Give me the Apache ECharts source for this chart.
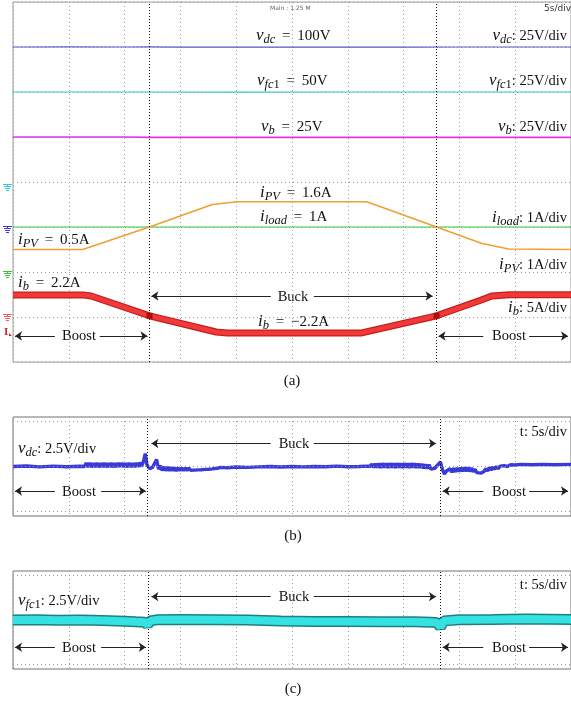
<!DOCTYPE html>
<html><head><meta charset="utf-8">
<script src="https://cdn.jsdelivr.net/npm/echarts@6/dist/echarts.min.js"></script>
<style>html,body{margin:0;padding:0;background:#fff;}#c{width:571px;height:701px;}</style>
</head><body><div id="c"></div>
<script>
// ---------- DATA (time in s, 5 s/div; values in physical units) ----------
const vdcA  = [[0,100],[5,100.1],[10,100],[12.2,100.1],[15,99.9],[20,99.9],[25,100],[30,99.9],[35,99.9],[40,100],[45,100],[50,100]];
const vfc1A = [[0,50],[10,50],[20,49.9],[30,50],[40,50],[50,50]];
const vbA   = [[0,25],[10,25],[12.3,24.8],[20,24.8],[30,24.8],[40,24.8],[50,24.8]];
const iloadA= [[0,1],[10,1],[20,1],[30,1],[40,1],[50,1]];
const ipvA  = [[0,0.5],[6.25,0.5],[12.23,1.0],[17.86,1.5],[20.1,1.56],[31.7,1.56],[37.95,1.0],[41.96,0.64],[44.4,0.51],[50,0.5]];
const ibA   = [[0,2.1],[6.4,2.1],[7.0,2.0],[12.23,-0.2],[18.2,-2.0],[19.2,-2.1],[31.25,-2.1],[37.95,-0.2],[41.96,1.55],[42.9,2.0],[44.5,2.15],[50,2.15]];
const ibCursorMarks = [[12.23,-0.2],[37.95,-0.2]];
const cursorsA = [12.23, 37.95];
const cursorsB = [12.05, 38.3];
const cursorsC = [12.14, 38.3];

const vdcB = [[0,100.0],[1.2,100.03],[2.4,99.98],[3.6,100.02],[4.8,99.99],[6.0,100.01],
 [6.4,100.0],[6.56,100.2],[6.72,99.97],[6.88,100.2],[7.04,99.96],[7.2,100.18],[7.36,99.97],[7.52,100.2],[7.68,99.96],[7.84,100.19],[8.0,99.97],[8.16,100.2],[8.32,99.96],[8.48,100.18],[8.64,99.97],[8.8,100.2],[8.96,99.96],[9.12,100.19],[9.28,99.97],[9.44,100.2],[9.6,99.98],[9.76,100.2],[9.92,99.97],[10.08,100.19],[10.24,99.96],[10.4,100.2],[10.56,99.97],[10.72,100.18],[10.88,99.97],[11.04,100.2],[11.2,99.98],[11.36,100.22],[11.52,100.0],
 [11.7,100.3],[11.85,100.72],[12.0,100.1],[12.23,99.88],[12.5,99.95],[12.86,100.39],[13.05,99.85],[13.2,100.05],[13.36,99.78],[13.52,99.98],[13.68,99.77],[13.84,99.97],[14.0,99.76],[14.16,99.95],[14.32,99.77],[14.48,99.94],[14.64,99.76],[14.8,99.93],[14.96,99.77],[15.12,99.92],[15.28,99.78],[15.44,99.92],[15.6,99.78],[15.76,99.91],[15.92,99.79],[16.08,99.9],[16.24,99.8],[16.4,99.9],[16.56,99.81],[16.72,99.9],[16.88,99.82],[17.04,99.9],[17.2,99.84],[17.36,99.92],[17.52,99.85],[17.68,99.92],[17.84,99.87],[18.0,99.93],[18.3,99.9],[18.6,99.95],[19.2,99.93],[20,99.97],[21,99.95],[22,99.98],[23,100.0],[24,99.97],[25,100.0],[26,99.98],[27,100.0],[28,99.99],[29,100.02],[30,99.99],[31,100.0],[31.8,100.02],
 [32.0,100.0],[32.16,100.14],[32.32,99.95],[32.48,100.16],[32.64,99.94],[32.8,100.17],[32.96,99.93],[33.12,100.18],[33.28,99.94],[33.44,100.17],[33.6,99.93],[33.76,100.18],[33.92,99.94],[34.08,100.17],[34.24,99.93],[34.4,100.18],[34.56,99.94],[34.72,100.17],[34.88,99.93],[35.04,100.18],[35.2,99.94],[35.36,100.17],[35.52,99.93],[35.68,100.18],[35.84,99.94],[36.0,100.17],[36.16,99.92],[36.32,100.16],[36.48,99.92],[36.64,100.15],[36.8,99.9],[36.96,100.12],[37.12,99.88],[37.28,100.1],[37.44,99.85],[37.6,99.95],[37.8,99.9],
 [38.0,100.05],[38.3,100.25],[38.5,99.8],[38.66,99.58],[38.85,99.75],[39.0,99.65],[39.16,99.88],[39.32,99.68],[39.48,99.9],[39.64,99.7],[39.8,99.92],[39.96,99.72],[40.12,99.93],[40.28,99.73],[40.44,99.94],[40.6,99.74],[40.76,99.94],[40.92,99.73],[41.08,99.92],[41.24,99.7],[41.4,99.85],[41.56,99.66],[41.72,99.7],[41.96,99.64],[42.2,99.72],[42.36,99.88],[42.52,99.75],[42.68,99.95],[42.84,99.8],[43.0,99.98],[43.16,99.84],[43.32,100.0],[43.48,99.88],[43.64,100.02],[43.8,99.92],[44.0,100.05],[44.3,100.0],[44.6,100.1],[45.0,100.08],[45.5,100.12],[46.5,100.1],[47.5,100.12],[48.5,100.1],[50,100.12]];

const vfc1C = [[0,50.0],[2,50.02],[4,49.98],[6,50.0],[8,49.97],[10,49.93],[11,49.9],[11.8,49.88],[12.05,49.72],[12.3,49.95],[13,50.02],[15,50.03],[18,50.02],[21,50.0],[24,49.95],[27,49.92],[30,49.92],[33,49.9],[36,49.9],[37.5,49.88],[38.0,49.85],[38.3,49.6],[38.6,49.95],[40,50.02],[43,50.03],[46,50.05],[50,50.03]];
const gridLinesB = [97.5, 100, 102.5];
const gridLinesC = [47.5, 50, 52.5];

// ---------- LAYOUT / STYLE ----------
const SERIF = "'Liberation Serif','DejaVu Serif',serif";
const dot = {color:'#9c9c9c', type:[1,3], width:1};
const chart = echarts.init(document.getElementById('c'), null, {renderer:'canvas'});

function xAx(g){return {type:'value',gridIndex:g,min:0,max:50,interval:5,axisLine:{show:false},axisTick:{show:false},axisLabel:{show:false},splitLine:{show:true,lineStyle:dot}};}
function yHidden(g,min,max){return {type:'value',gridIndex:g,min:min,max:max,show:false};}
function line(name,xi,yi,data,color,width,z){return {name,type:'line',xAxisIndex:xi,yAxisIndex:yi,data,symbol:'none',showSymbol:false,lineStyle:{color,width},itemStyle:{color},z:z||3,silent:true,animation:false};}
function dummy(xi,yi,mlData,ls,sym,z){return {type:'line',xAxisIndex:xi,yAxisIndex:yi,data:[],symbol:'none',silent:true,animation:false,z:z||2,
  markLine:{silent:true,animation:false,symbol:sym,symbolSize:7,label:{show:false},lineStyle:ls,data:mlData}};}
function arrow(t1,t2,y){return [{coord:[t1,y]},{coord:[t2,y]}];}

const arrowLS = {color:'#222',width:1,type:'solid'};
const cursorLS = {color:'#111',width:1,type:[1,2]};

const rich = {
  m:{fontFamily:SERIF,fontStyle:'italic',fontSize:17,lineHeight:20,verticalAlign:'middle',fill:'#111'},
  s:{fontFamily:SERIF,fontStyle:'italic',fontSize:12.5,lineHeight:12,verticalAlign:'bottom',fill:'#111'},
  s1:{fontFamily:SERIF,fontSize:12.5,lineHeight:12,verticalAlign:'bottom',fill:'#111'},
  e:{fontFamily:SERIF,fontSize:15,lineHeight:20,verticalAlign:'middle',fill:'#111'},
  n:{fontFamily:SERIF,fontSize:14.5,lineHeight:20,verticalAlign:'middle',fill:'#111'}
};
function txt(x,y,text,align){return {type:'text',x:x,y:y,silent:true,style:{text:text,rich:rich,align:align||'left',verticalAlign:'middle',fill:'#111',font:'14px '+SERIF}};}
const labels = [
  [256,36,'{m|v}{s|dc}{e| \u2009=\u2009 100V}','left'],
  [257,81,'{m|v}{s|fc}{s1|1}{e| \u2009=\u2009 50V}','left'],
  [261,127,'{m|v}{s|b}{e| \u2009=\u2009 25V}','left'],
  [567,36,'{m|v}{s|dc}{n|: 25V/div}','right'],
  [567,81,'{m|v}{s|fc}{s1|1}{n|: 25V/div}','right'],
  [567,127,'{m|v}{s|b}{n|: 25V/div}','right'],
  [260,193,'{m|i}{s|PV}{e| \u2009=\u2009 1.6A}','left'],
  [260,217,'{m|i}{s|load}{e| \u2009=\u2009 1A}','left'],
  [567,218,'{m|i}{s|load}{n|: 1A/div}','right'],
  [18,240,'{m|i}{s|PV}{e| \u2009=\u2009 0.5A}','left'],
  [567,265,'{m|i}{s|PV}{n|: 1A/div}','right'],
  [18,283,'{m|i}{s|b}{e| \u2009=\u2009 2.2A}','left'],
  [258,322,'{m|i}{s|b}{e| \u2009=\u2009 \u22122.2A}','left'],
  [567,308,'{m|i}{s|b}{n|: 5A/div}','right'],
  [293,297,'{n|Buck}','center'],
  [79,336,'{n|Boost}','center'],
  [509,336,'{n|Boost}','center'],
  [292,381,'{e|(a)}','center'],
  [18,449,'{m|v}{s|dc}{n|: 2.5V/div}','left'],
  [294,444,'{n|Buck}','center'],
  [567,432,'{n|t: 5s/div}','right'],
  [79,492,'{n|Boost}','center'],
  [509,492,'{n|Boost}','center'],
  [293,536,'{e|(b)}','center'],
  [18,601,'{m|v}{s|fc}{s1|1}{n|: 2.5V/div}','left'],
  [294,597,'{n|Buck}','center'],
  [567,585,'{n|t: 5s/div}','right'],
  [79,648,'{n|Boost}','center'],
  [509,648,'{n|Boost}','center'],
  [293,689,'{e|(c)}','center']
];
function gnd(y,color){
  const ls={stroke:color,lineWidth:1};
  return {type:'group',silent:true,children:[
    {type:'line',shape:{x1:3,y1:y+0.5,x2:12,y2:y+0.5},style:ls},
    {type:'line',shape:{x1:7.5,y1:y,x2:7.5,y2:y+2},style:ls},
    {type:'line',shape:{x1:4,y1:y+2.5,x2:11,y2:y+2.5},style:ls},
    {type:'line',shape:{x1:5,y1:y+4.5,x2:10,y2:y+4.5},style:ls},
    {type:'line',shape:{x1:6,y1:y+6.5,x2:9,y2:y+6.5},style:ls}
  ]};
}
const graphics = labels.map(l=>txt(l[0],l[1],l[2],l[3]));
graphics.push({type:'text',x:270,y:8,silent:true,style:{text:'Main : 1.25 M',font:'6px "DejaVu Sans"',fill:'#666',verticalAlign:'middle'}});
graphics.push({type:'text',x:544,y:9,silent:true,style:{text:'5s/div',font:'9px "DejaVu Sans"',fill:'#333',verticalAlign:'middle'}});
graphics.push(gnd(184,'#33c8e0'), gnd(226,'#3a3ad8'), gnd(271,'#33c833'), gnd(314,'#ee5a5a'));
graphics.push({type:'text',x:4,y:332,silent:true,style:{text:'I',font:'bold 11px '+SERIF,fill:'#e02020',verticalAlign:'middle'}});
graphics.push({type:'polygon',silent:true,shape:{points:[[9,333],[12,336],[9,336]]},style:{fill:'#e02020'}});

const option = {
  backgroundColor:'#fff',
  animation:false,
  grid:[
    {left:13,top:2,width:560,height:360,show:true,borderColor:'#9a9a9a',borderWidth:1,backgroundColor:'transparent'},
    {left:13,top:417,width:560,height:99,show:true,borderColor:'#707070',borderWidth:1,backgroundColor:'transparent'},
    {left:13,top:571,width:560,height:98,show:true,borderColor:'#707070',borderWidth:1,backgroundColor:'transparent'}
  ],
  xAxis:[xAx(0),xAx(1),xAx(2)],
  yAxis:[
    {type:'value',gridIndex:0,min:0,max:8,interval:1,axisLine:{show:false},axisTick:{show:false},axisLabel:{show:false},splitLine:{show:true,lineStyle:dot}},
    yHidden(0,-75,125),
    yHidden(0,-100,100),
    yHidden(0,-100,100),
    yHidden(0,-2,6),
    yHidden(0,-5.333,34.667),
    yHidden(1,97.25,102.75),
    yHidden(2,47.25,52.75)
  ],
  series:[
    // panel (a)
    line('vdc',0,1,vdcA,'#5a5ad2',1.2),
    line('vfc1',0,2,vfc1A,'#3cc8c8',1.2),
    line('vb',0,3,vbA,'#e035e0',1.6),
    line('iload',0,4,iloadA,'#36c436',1),
    line('ipv',0,4,ipvA,'#f0a032',1.6,4),
    line('ibEdge',0,5,ibA,'#c81c1c',7,5),
    line('ib',0,5,ibA,'#f03a3a',4.5,6),
    {type:'scatter',xAxisIndex:0,yAxisIndex:5,data:ibCursorMarks,symbol:'rect',symbolSize:6,itemStyle:{color:'#a00000'},z:7,silent:true,animation:false},
    dummy(0,0,cursorsA.map(v=>({xAxis:v})),cursorLS,['none','none'],8),
    dummy(0,0,[arrow(23.1,12.4,1.467),arrow(26.96,37.6,1.467),arrow(3.75,0.18,0.578),arrow(7.77,12.05,0.578),arrow(42.14,38.13,0.578),arrow(46.25,49.73,0.578)],arrowLS,['none','arrow'],8),
    // panel (b)
    dummy(1,6,gridLinesB.map(v=>({yAxis:v})),dot,['none','none'],1),
    line('vdcB',1,6,vdcB,'#3a3ad8',3.4,4),
    dummy(1,6,cursorsB.map(v=>({xAxis:v})),cursorLS,['none','none'],8),
    dummy(1,6,[arrow(23.1,12.4,101.28),arrow(26.96,37.9,101.28),arrow(3.75,0.18,98.64),arrow(7.9,11.9,98.64),arrow(42.14,38.5,98.64),arrow(46.25,49.73,98.64)],arrowLS,['none','arrow'],8),
    // panel (c)
    dummy(2,7,gridLinesC.map(v=>({yAxis:v})),dot,['none','none'],1),
    line('vfc1Edge',2,7,vfc1C,'#1f7f80',11,4),
    line('vfc1C',2,7,vfc1C,'#34e2e2',8,5),
    dummy(2,7,cursorsC.map(v=>({xAxis:v})),cursorLS,['none','none'],8),
    dummy(2,7,[arrow(23.1,12.4,51.31),arrow(26.96,37.9,51.31),arrow(3.75,0.18,48.47),arrow(7.9,11.9,48.47),arrow(42.14,38.5,48.47),arrow(46.25,49.73,48.47)],arrowLS,['none','arrow'],8)
  ],
  graphic: graphics
};
chart.setOption(option);
</script></body></html>
